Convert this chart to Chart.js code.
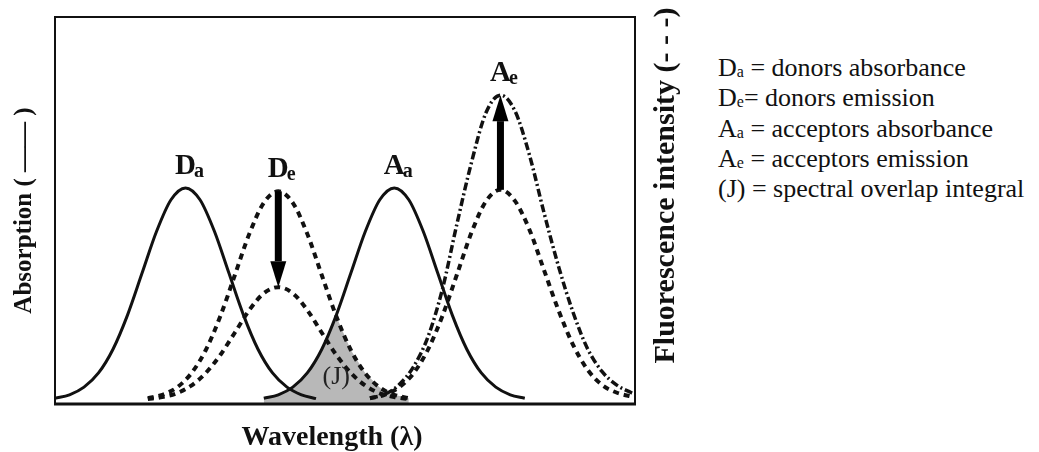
<!DOCTYPE html>
<html><head><meta charset="utf-8">
<script src="https://cdn.jsdelivr.net/npm/chart.js@4.4.1/dist/chart.umd.min.js"></script>
<style>
html,body{margin:0;padding:0;background:#fff;width:1039px;height:452px;overflow:hidden;}
#wrap{position:absolute;left:0;top:0;width:700px;height:452px;}
#legend{position:absolute;left:718px;top:53px;font-family:'Liberation Serif','Times New Roman',serif;font-size:26px;line-height:30.3px;color:#111;white-space:nowrap;}
#legend sub{font-size:16px;vertical-align:-1px;line-height:0;}
</style></head><body>
<div id="wrap"><canvas id="c" width="700" height="452" style="width:700px;height:452px"></canvas></div>
<div id="legend"></div>
<script>
// ---- data (x = wavelength, arbitrary units 0-100; y = intensity, arbitrary units) ----
const Da_x = [0,2.5,5,7.5,10,12.5,15,17.5,20,22.5,25,27.5,30,32.5,35,37.5,40,42.5,45];
const Da_y = [0.5,1.4,3.4,7.1,13.3,22.2,33.1,44.0,52.3,55.4,52.3,44.0,33.1,22.2,13.3,7.1,3.4,1.4,0.4];

const De_x = [16,18.5,21,23.5,26,28.5,31,33.5,36,38.5,41,43.5,46,48.5,51,53.5,56,58.5,61];
const DeHigh_y = [0.5,1.4,3.3,7.0,13.1,21.9,32.6,43.4,51.5,54.5,51.5,43.4,32.6,21.9,13.1,7.0,3.3,1.4,0.5];
const DeLow_y = [0.3,0.8,1.8,3.8,7.1,11.8,17.6,23.5,27.9,29.5,27.9,23.5,17.6,11.8,7.1,3.8,1.8,0.8,0.3];

const Aa_x = [36,38.5,41,43.5,46,48.5,51,53.5,56,58.5,61,63.5,66,68.5,71,73.5,76,78.5,81];
const Aa_y = [0.5,1.4,3.4,7.1,13.3,22.2,33.1,44.0,52.3,55.4,52.3,44.0,33.1,22.2,13.3,7.1,3.4,1.4,0.5];

const Ae_x = [54.3,56.8,59.3,61.8,64.3,66.8,69.3,71.8,74.3,76.8,79.3,81.8,84.3,86.8,89.3,91.8,94.3,96.8,99.3,100];
const AeLow_y = [0.5,1.4,3.3,7.0,13.2,22.0,32.8,43.7,51.9,54.9,52.0,44.5,34.0,23.5,14.5,8.0,4.0,2.0,1.0,0.8];
const AeHigh_y = [0.5,1.5,4.0,8.7,16.5,29.0,46.0,62.0,75.0,79.6,75.5,64.0,49.0,35.0,23.0,13.5,7.5,4.0,2.0,1.5];

// spectral overlap (J): area under both De emission and Aa absorbance
const J_x = [36,38.5,41,43.5,46,48.5,51,53.5,56,58.5,61];
const J_y = [0.5,1.4,3.4,7.1,13.3,21.9,13.1,7.0,3.3,1.4,0.5];

const peakLabelMain = ['D','D','A','A'];
const peakLabelSub  = ['a','e','a','e'];
const legendMain = ['D','D','A','A','(J)'];
const legendSub  = ['a','e','a','e',''];
const legendText = [' = donors absorbance','= donors emission',' = acceptors absorbance',' = acceptors emission',' = spectral overlap integral'];
const axisTitleY = 'Absorption ( \u2014\u2014 )';
const axisTitleY2 = 'Fluorescence intensity (- - -)';
const axisTitleX = 'Wavelength (\u03bb)';
const jLabel = '(J)';

// ---- legend (HTML text) ----
const lg = document.getElementById('legend');
legendMain.forEach((m,i)=>{
  const d = document.createElement('div');
  d.appendChild(document.createTextNode(m));
  if (legendSub[i]) { const s = document.createElement('sub'); s.textContent = legendSub[i]; d.appendChild(s); }
  d.appendChild(document.createTextNode(legendText[i]));
  lg.appendChild(d);
});

const pts = (xs, ys) => xs.map((x,i)=>({x, y: ys[i]}));
function peakOf(xs, ys){ let k=0; ys.forEach((v,i)=>{ if (v>ys[k]) k=i; }); return {x: xs[k], y: ys[k]}; }

const serif = "'Liberation Serif','Times New Roman',serif";
const INK = '#111';

const peakSeries = [[Da_x,Da_y],[De_x,DeHigh_y],[Aa_x,Aa_y],[Ae_x,AeHigh_y]];
const arrowPairs = [[[De_x,DeHigh_y],[De_x,DeLow_y]], [[Ae_x,AeLow_y],[Ae_x,AeHigh_y]]];

const overlay = {
  id: 'overlay',
  afterDatasetsDraw(chart){
    const {ctx, chartArea: a, scales: {x, y}} = chart;
    ctx.save();
    // arrows
    ctx.fillStyle = '#000';
    arrowPairs.forEach(([f,t])=>{
      const p0 = peakOf(f[0], f[1]), p1 = peakOf(t[0], t[1]);
      const px = x.getPixelForValue(p1.x);
      const y0 = y.getPixelForValue(p0.y), y1 = y.getPixelForValue(p1.y);
      const dir = Math.sign(y1 - y0), headLen = 26, headW = 8, sw = 7;
      const yb = y1 - dir*headLen;
      ctx.fillRect(px - sw/2, Math.min(y0, yb), sw, Math.abs(yb - y0));
      ctx.beginPath(); ctx.moveTo(px, y1); ctx.lineTo(px - headW, yb); ctx.lineTo(px + headW, yb); ctx.closePath(); ctx.fill();
    });
    // peak labels
    ctx.fillStyle = INK;
    ctx.textBaseline = 'alphabetic';
    peakSeries.forEach((s,i)=>{
      const p = peakOf(s[0], s[1]);
      const px = x.getPixelForValue(p.x), py = y.getPixelForValue(p.y) - 14;
      ctx.font = 'bold 29px ' + serif;
      const w = ctx.measureText(peakLabelMain[i]).width;
      ctx.textAlign = 'left';
      ctx.fillText(peakLabelMain[i], px - w/2, py);
      ctx.font = 'bold 20px ' + serif;
      ctx.fillText(peakLabelSub[i], px + w/2 - 2, py + 3);
    });
    // J label
    const pj = peakOf(J_x, J_y);
    ctx.font = '26px ' + serif;
    ctx.fillStyle = '#222';
    ctx.textAlign = 'center'; ctx.textBaseline = 'middle';
    ctx.fillText(jLabel, x.getPixelForValue(pj.x), y.getPixelForValue(0) - 23);
    // frame
    ctx.strokeStyle = INK; ctx.lineWidth = 2;
    ctx.strokeRect(a.left, a.top, a.right - a.left, a.bottom - a.top);
    ctx.lineWidth = 3;
    ctx.beginPath(); ctx.moveTo(a.left - 1, a.bottom); ctx.lineTo(a.right + 1, a.bottom); ctx.stroke();
    // right axis title (reads bottom to top)
    ctx.fillStyle = INK;
    ctx.font = 'bold 30px ' + serif;
    ctx.save();
    ctx.translate(a.right + 31, (a.top + a.bottom)/2 - 25);
    ctx.rotate(-Math.PI/2);
    ctx.textAlign = 'center'; ctx.textBaseline = 'middle';
    ctx.fillText(axisTitleY2, 0, 0);
    ctx.restore();
    // bottom axis title
    ctx.font = 'bold 28px ' + serif;
    ctx.textAlign = 'center'; ctx.textBaseline = 'alphabetic';
    ctx.fillText(axisTitleX, (a.left + a.right)/2 - 13, a.bottom + 41);
    ctx.restore();
  }
};

const lineBase = {pointRadius: 0, borderColor: INK, fill: false, cubicInterpolationMode: 'monotone', order: 0};

new Chart(document.getElementById('c'), {
  type: 'line',
  data: {
    datasets: [
      {label: 'J', data: pts(J_x, J_y), borderWidth: 0, pointRadius: 0, tension: 0, fill: {value: -1}, backgroundColor: '#b8b8b8', borderColor: 'rgba(0,0,0,0)', order: 10},
      Object.assign({label: 'Da', data: pts(Da_x, Da_y), borderWidth: 3}, lineBase),
      Object.assign({label: 'Aa', data: pts(Aa_x, Aa_y), borderWidth: 3}, lineBase),
      Object.assign({label: 'De', data: pts(De_x, DeHigh_y), borderWidth: 4, borderDash: [6,5]}, lineBase),
      Object.assign({label: 'De quenched', data: pts(De_x, DeLow_y), borderWidth: 4, borderDash: [6,5]}, lineBase),
      Object.assign({label: 'Ae', data: pts(Ae_x, AeLow_y), borderWidth: 4, borderDash: [6,5]}, lineBase),
      Object.assign({label: 'Ae sensitized', data: pts(Ae_x, AeHigh_y), borderWidth: 3.5, borderDash: [8,3,2,3]}, lineBase)
    ]
  },
  options: {
    responsive: false, animation: false,
    layout: {padding: {top: 17, right: 65, left: 0, bottom: 0}},
    plugins: {legend: {display: false}, tooltip: {enabled: false}},
    scales: {
      x: {type: 'linear', min: 0, max: 100, ticks: {display: false}, grid: {display: false}, border: {display: false},
          afterFit(s){ s.height = 48; }},
      y: {type: 'linear', min: -1, max: 100, ticks: {display: false}, grid: {display: false}, border: {display: false},
          title: {display: true, text: axisTitleY, color: INK, font: {family: serif, size: 25, weight: 'bold'}, padding: {top: 10, bottom: 0}},
          afterFit(s){ s.width = 55; }}
    }
  },
  plugins: [overlay]
});
</script>
</body></html>
